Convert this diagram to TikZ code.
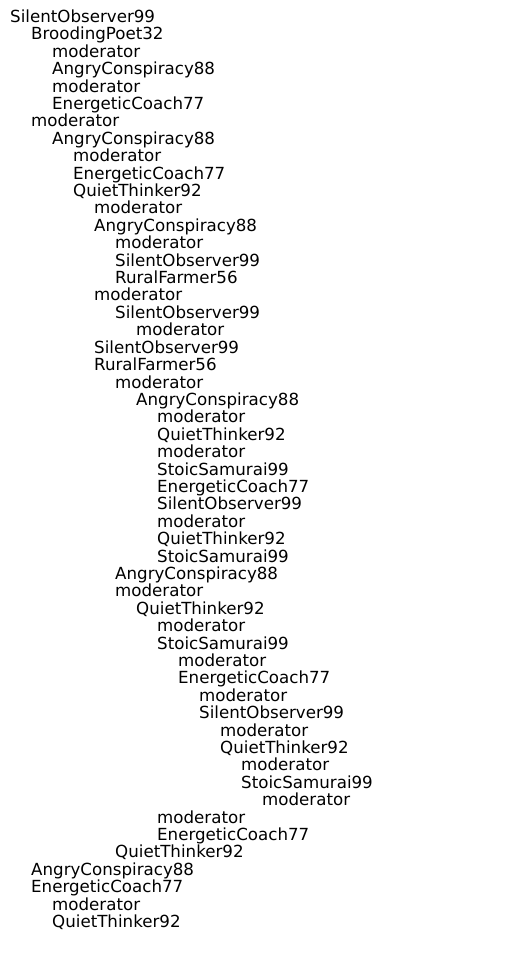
\documentclass[tikz,border=0pt]{standalone}
\usepackage{fontspec}
\setmainfont{DejaVu Sans}
\begin{document}
\begin{tikzpicture}[x=1pt,y=1pt,
  lbl/.style={anchor=base west,inner sep=0pt,font=\fontsize{16.67}{18}\selectfont,text=black}]
\useasboundingbox[fill=white] (0,0) rectangle (515,-957);
\foreach \lv/\txt [count=\i] in {
0/SilentObserver99,
1/BroodingPoet32,
2/moderator,
2/AngryConspiracy88,
2/moderator,
2/EnergeticCoach77,
1/moderator,
2/AngryConspiracy88,
3/moderator,
3/EnergeticCoach77,
3/QuietThinker92,
4/moderator,
4/AngryConspiracy88,
5/moderator,
5/SilentObserver99,
5/RuralFarmer56,
4/moderator,
5/SilentObserver99,
6/moderator,
4/SilentObserver99,
4/RuralFarmer56,
5/moderator,
6/AngryConspiracy88,
7/moderator,
7/QuietThinker92,
7/moderator,
7/StoicSamurai99,
7/EnergeticCoach77,
7/SilentObserver99,
7/moderator,
7/QuietThinker92,
7/StoicSamurai99,
5/AngryConspiracy88,
5/moderator,
6/QuietThinker92,
7/moderator,
7/StoicSamurai99,
8/moderator,
8/EnergeticCoach77,
9/moderator,
9/SilentObserver99,
10/moderator,
10/QuietThinker92,
11/moderator,
11/StoicSamurai99,
12/moderator,
7/moderator,
7/EnergeticCoach77,
5/QuietThinker92,
1/AngryConspiracy88,
1/EnergeticCoach77,
2/moderator,
2/QuietThinker92}
  \node[lbl] (n\i) at ({10+21*\lv},{-22.6-17.4*(\i-1)}) {\txt};
\end{tikzpicture}
\end{document}
